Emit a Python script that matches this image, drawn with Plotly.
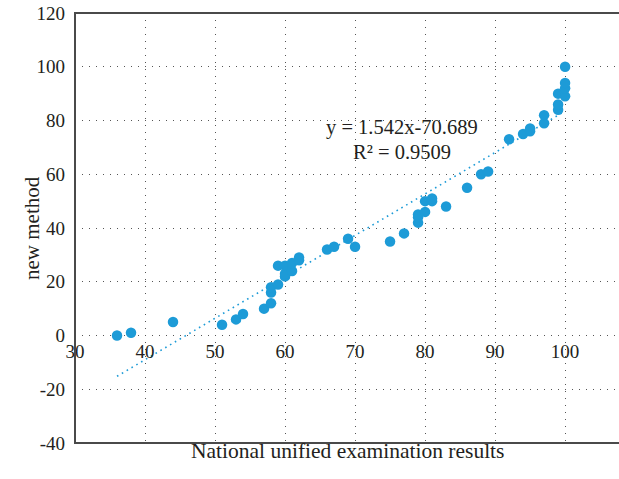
import plotly.graph_objects as go

# Data
exam_scores = [36, 38, 44, 51, 53, 54, 57, 58, 58, 58, 59, 59, 60, 60, 60, 61, 61, 62, 62,
               66, 67, 69, 70, 75, 77, 79, 79, 79, 80, 80, 81, 81, 83, 86, 88, 89,
               92, 94, 95, 95, 97, 97, 99, 99, 99, 100, 100, 100, 100]
new_method = [0, 1, 5, 4, 6, 8, 10, 12, 16, 18, 19, 26, 22, 23, 26, 24, 27, 28, 29,
              32, 33, 36, 33, 35, 38, 42, 44, 45, 46, 50, 50, 51, 48, 55, 60, 61,
              73, 75, 76, 77, 79, 82, 84, 86, 90, 89, 92, 94, 100]
trend_slope = 1.542
trend_intercept = -70.689
trend_x = [36, 100]
x_ticks = [30, 40, 50, 60, 70, 80, 90, 100]
y_ticks = [-40, -20, 0, 20, 40, 60, 80, 100, 120]
equation_text = "y = 1.542x-70.689"
r2_text = "R² = 0.9509"
x_title = "National unified examination results"
y_title = "new method"

FONT = "Liberation Serif"
TXT = "#231F20"
BLUE = "#1D9BD7"

trend_y = [trend_slope * v + trend_intercept for v in trend_x]

fig = go.Figure()
fig.add_trace(go.Scatter(x=trend_x, y=trend_y, mode="lines",
                         line=dict(color=BLUE, width=1.6, dash="1.6px,4px"),
                         hoverinfo="skip", showlegend=False))
fig.add_trace(go.Scatter(x=exam_scores, y=new_method, mode="markers",
                         marker=dict(color=BLUE, size=10.5, line=dict(width=0)),
                         showlegend=False))

fig.update_layout(
    width=619, height=479,
    margin=dict(l=75, r=0, t=13, b=36),
    paper_bgcolor="white", plot_bgcolor="white",
    font=dict(family=FONT, size=19, color=TXT),
    xaxis=dict(range=[30, 107.7], tickvals=x_ticks, ticktext=[str(v) for v in x_ticks],
               showgrid=True, gridcolor="#555555", gridwidth=1.2, griddash="1.3px,5.7px",
               zeroline=False, showline=False, ticks="",
               anchor="free", position=0.25, ticklabelstandoff=2,
               tickfont=dict(family=FONT, size=19, color=TXT)),
    yaxis=dict(range=[-40, 120], tickvals=y_ticks, ticktext=[str(v) for v in y_ticks],
               showgrid=True, gridcolor="#555555", gridwidth=1.2, griddash="1.3px,5.7px",
               zeroline=False, showline=False, ticks="", ticklabelstandoff=9,
               tickfont=dict(family=FONT, size=19, color=TXT)),
    shapes=[dict(type="rect", xref="paper", yref="paper", x0=0, x1=1.05, y0=0, y1=1,
                 line=dict(color="#4a4a4a", width=2), layer="above")],
    annotations=[
        dict(text=equation_text, x=402, y=113.6, xref="paper", yref="paper",
             showarrow=False, font=dict(family=FONT, size=20.5, color=TXT)),
        dict(text=r2_text, x=402, y=139, xref="paper", yref="paper",
             showarrow=False, font=dict(family=FONT, size=20.5, color=TXT)),
        dict(text=x_title, x=(75 + 544 / 2), y=465, xref="paper", yref="paper",
             showarrow=False, font=dict(family=FONT, size=21.5, color=TXT)),
        dict(text=y_title, x=18, y=228, xref="paper", yref="paper", textangle=-90,
             showarrow=False, font=dict(family=FONT, size=21, color=TXT)),
    ],
)

# convert pixel-placed annotations to paper coordinates
pw, ph = 619 - 75, 479 - 13 - 36
for a in fig.layout.annotations:
    px, py = a.x, a.y
    a.x = (px - 75) / pw
    a.y = (479 - 36 - py) / ph

fig.write_html("out.html")
